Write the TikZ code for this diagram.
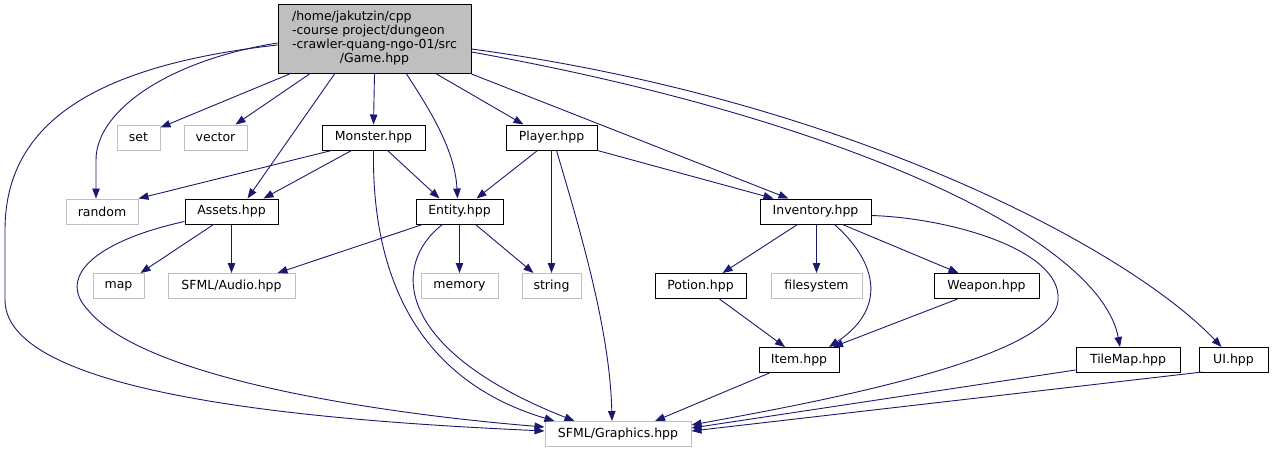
\documentclass[tikz,border=0pt]{standalone}
\usepackage{fontspec}
\setmainfont{DejaVu Sans}
\usetikzlibrary{arrows.meta,calc}

\definecolor{edgeblue}{HTML}{191970}
\definecolor{sysgray}{HTML}{BFBFBF}

\begin{document}
\begin{tikzpicture}[
  x=1pt, y=-1pt,
  font=\fontsize{12.5}{14}\selectfont,
  file/.style={draw=black, line width=1pt, fill=white, minimum height=25pt, inner sep=2pt},
  sys/.style={draw=sysgray, line width=1pt, fill=white, minimum height=25pt, inner sep=2pt},
  root/.style={draw=black, line width=1pt, fill=sysgray, inner sep=1pt},
  inc/.style={-{Triangle[length=10pt,width=7.5pt]}, draw=edgeblue, line width=0.9pt}
]
\useasboundingbox (0,0) rectangle (1273,455);

% top file
\node[root, minimum width=193pt, minimum height=69pt] (game) at (374.5,39)
  {\begin{tabular}{@{}l@{}}/home/jakutzin/cpp\\-course project/dungeon\\-crawler-quang-ngo-01/src\\\multicolumn{1}{@{}c@{}}{/Game.hpp}\end{tabular}};

% row 1
\node[sys, minimum width=43pt] (set) at (138.5,137.5) {set};
\node[sys, minimum width=63pt] (vector) at (215.5,137.5) {vector};
\node[file, minimum width=103pt] (monster) at (373.5,137.5) {Monster.hpp};
\node[file, minimum width=91pt] (player) at (551.5,137.5) {Player.hpp};

% row 2
\node[sys, minimum width=72pt] (random) at (102,211.5) {random};
\node[file, minimum width=93pt] (assets) at (231.5,211.5) {Assets.hpp};
\node[file, minimum width=87pt] (entity) at (459.5,211.5) {Entity.hpp};
\node[file, minimum width=111pt] (inventory) at (815.5,211.5) {Inventory.hpp};

% row 3
\node[sys, minimum width=51pt] (map) at (118.5,286) {map};
\node[sys, minimum width=127pt] (audio) at (231.5,286) {SFML/Audio.hpp};
\node[sys, minimum width=77pt] (memory) at (459.5,286) {memory};
\node[sys, minimum width=59pt] (string) at (551.5,286) {string};
\node[file, minimum width=91pt] (potion) at (700.5,286) {Potion.hpp};
\node[sys, minimum width=91pt] (filesystem) at (816.5,286) {filesystem};
\node[file, minimum width=105pt] (weapon) at (986.5,286) {Weapon.hpp};

% row 4
\node[file, minimum width=80pt] (item) at (799,360) {Item.hpp};
\node[file, minimum width=104pt] (tilemap) at (1128,360) {TileMap.hpp};
\node[file, minimum width=69pt] (ui) at (1233.5,360) {UI.hpp};

% bottom
\node[sys, minimum width=146pt] (graphics) at (618,434) {SFML/Graphics.hpp};

% Game.hpp includes
\draw[inc] ($(game.west)+(0,6)$) .. controls (100,65) and (5,120) .. (5,230) -- (5,300)
  .. controls (5,400) and (350,422) .. ($(graphics.west)+(0,-3)$);
\draw[inc] ($(game.west)+(0,4)$) .. controls (170,60) and (96,110) .. (96,160) -- ($(random.north)+(-6,0)$);
\draw[inc] ($(game.south)+(-85,0)$) -- ($(set.north east)+(0,3)$);
\draw[inc] ($(game.south)+(-65,0)$) -- ($(vector.north east)+(-12,0)$);
\draw[inc] ($(game.south)+(-40,0)$) -- ($(assets.north)+(16,0)$);
\draw[inc] (game.south) -- (monster.north);
\draw[inc] ($(game.south)+(32,0)$) .. controls (430,110) and (455,150) .. ($(entity.north)+(-2,0)$);
\draw[inc] ($(game.south)+(62,0)$) -- ($(player.north)+(-28,0)$);
\draw[inc] (game.south east) -- ($(inventory.north)+(-27,0)$);
\draw[inc] ($(game.east)+(0,13)$) .. controls (850,120) and (1100,240) .. ($(tilemap.north)+(-8,0)$);
\draw[inc] ($(game.east)+(0,10)$) .. controls (850,100) and (1130,250) .. ($(ui.north)+(-12,0)$);

% Monster.hpp includes
\draw[inc] ($(monster.south west)+(10,0)$) -- (random.north east);
\draw[inc] ($(monster.south)+(-22,0)$) -- ($(assets.north)+(32,0)$);
\draw[inc] ($(monster.south)+(14,0)$) -- ($(entity.north)+(-20,0)$);
\draw[inc] (monster.south) .. controls (372,250) and (400,375) .. ($(graphics.north west)+(10,0)$);

% Player.hpp includes
\draw[inc] ($(player.south)+(-14,0)$) -- ($(entity.north)+(17,0)$);
\draw[inc] (player.south) -- (string.north);
\draw[inc] ($(player.south)+(5,0)$) .. controls (580,230) and (610,330) .. ($(graphics.north)+(-6,0)$);
\draw[inc] (player.south east) -- ($(inventory.north)+(-42,0)$);

% Assets.hpp includes
\draw[inc] ($(assets.south)+(-18,0)$) -- ($(map.north east)+(-4,0)$);
\draw[inc] (assets.south) -- (audio.north);
\draw[inc] ($(assets.west)+(0,10)$) .. controls (100,240) and (55,275) .. (88,310)
  .. controls (150,385) and (420,417) .. ($(graphics.west)+(0,-7)$);

% Entity.hpp includes
\draw[inc] ($(entity.south west)+(7,0)$) -- ($(audio.north east)+(-18,0)$);
\draw[inc] (entity.south) -- (memory.north);
\draw[inc] ($(entity.south)+(16,0)$) -- ($(string.north west)+(12,0)$);
\draw[inc] ($(entity.south)+(-17,0)$) .. controls (390,265) and (395,350) .. ($(graphics.north west)+(30,0)$);

% Inventory.hpp includes
\draw[inc] ($(inventory.south)+(-18,0)$) -- ($(potion.north)+(22,0)$);
\draw[inc] (inventory.south -| filesystem.north) -- (filesystem.north);
\draw[inc] ($(inventory.south)+(27,0)$) -- ($(weapon.north)+(-28,0)$);
\draw[inc] ($(inventory.south)+(19,0)$) .. controls (880,265) and (885,310) .. ($(item.north)+(30,0)$);
\draw[inc] ($(inventory.east)+(0,4)$) .. controls (950,218) and (1062,250) .. (1058,300)
  .. controls (1055,360) and (800,405) .. ($(graphics.east)+(0,-9)$);

% the rest
\draw[inc] ($(potion.south)+(19,0)$) -- ($(item.north)+(-14,0)$);
\draw[inc] ($(weapon.south)+(-29,0)$) -- ($(item.north)+(34,0)$);
\draw[inc] ($(item.south west)+(11,0)$) -- ($(graphics.north)+(37,0)$);
\draw[inc] ($(tilemap.south west)+(0,-3)$) -- ($(graphics.east)+(0,-6)$);
\draw[inc] ($(ui.south west)+(4,-1)$) -- ($(graphics.east)+(0,-3)$);

\end{tikzpicture}
\end{document}
